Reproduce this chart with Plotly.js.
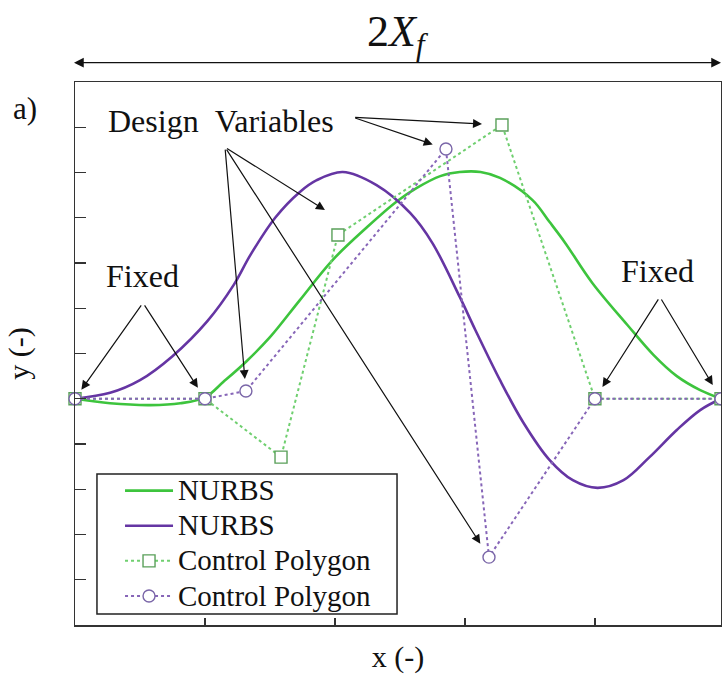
<!DOCTYPE html>
<html>
<head>
<meta charset="utf-8">
<script src="https://cdn.plot.ly/plotly-3.0.1.min.js"></script>
<style>html,body{margin:0;padding:0;background:#fff;}#chart{width:722px;height:677px;}</style>
</head>
<body>
<div id="chart"></div>
<script>
// Control polygons
const greenPolyX = [0, 1.0, 1.585, 2.023, 3.285, 4.0, 4.97];
const greenPolyY = [0, 0, -1.29, 3.62, 6.05, 0, 0];
const purplePolyX = [0, 1.0, 1.315, 2.854, 3.185, 4.0, 4.97];
const purplePolyY = [0, 0, 0.17, 5.52, -3.5, 0, 0];

// NURBS curves
const greenCurveX = [0, 0.27, 0.58, 0.81, 1.0, 1.14, 1.32, 1.50, 1.73, 1.98, 2.25, 2.48, 2.63, 2.81, 2.96, 3.12, 3.27, 3.52, 3.65, 3.77, 3.98, 4.25, 4.45, 4.63, 4.81, 4.97];
const greenCurveY = [0, -0.10, -0.14, -0.10, 0.03, 0.37, 0.83, 1.36, 2.18, 3.06, 3.80, 4.37, 4.66, 4.92, 5.01, 5.01, 4.88, 4.39, 3.91, 3.45, 2.56, 1.63, 0.97, 0.50, 0.19, 0];
const purpleCurveX = [0, 0.27, 0.5, 0.75, 1.02, 1.22, 1.35, 1.54, 1.73, 1.86, 2.06, 2.32, 2.58, 2.75, 2.96, 3.08, 3.27, 3.45, 3.65, 3.83, 4.02, 4.22, 4.42, 4.63, 4.81, 4.97];
const purpleCurveY = [0, 0.13, 0.41, 0.94, 1.72, 2.51, 3.18, 4.0, 4.57, 4.83, 5.01, 4.72, 4.10, 3.44, 2.25, 1.52, 0.41, -0.53, -1.35, -1.80, -1.97, -1.80, -1.29, -0.69, -0.25, 0];

const xTicks = [1, 2, 3, 4];
const yTicks = [-4, -3, -2, -1, 0, 1, 2, 3, 4, 5, 6];
const seriesNames = ['NURBS', 'NURBS', 'Control Polygon', 'Control Polygon'];

const GREEN = '#3dc43d', PURPLE = '#6535a3';
const GREEN_L = '#6fcf6f', PURPLE_L = '#8766b8';
const FONT = 'Liberation Serif, Times New Roman, serif';
const nm = s => '<span style="font-size:29px">' + s + '</span>';

const traces = [
  {x: greenCurveX, y: greenCurveY, name: nm(seriesNames[0]), mode: 'lines', line: {color: GREEN, width: 2.6, shape: 'spline'}},
  {x: purpleCurveX, y: purpleCurveY, name: nm(seriesNames[1]), mode: 'lines', line: {color: PURPLE, width: 2.6, shape: 'spline'}},
  {x: greenPolyX, y: greenPolyY, name: nm(seriesNames[2]), mode: 'lines+markers', cliponaxis: false,
   line: {color: GREEN_L, width: 2, dash: 'dot'},
   marker: {symbol: 'square', size: 12, color: '#fff', line: {color: '#5aa05a', width: 1.4}}},
  {x: purplePolyX, y: purplePolyY, name: nm(seriesNames[3]), mode: 'lines+markers', cliponaxis: false,
   line: {color: PURPLE_L, width: 2, dash: 'dot'},
   marker: {symbol: 'circle', size: 12, color: '#fff', line: {color: '#7a66a8', width: 1.4}}}
];

function arrow(tx, ty, hx, hy, standoff) {
  return {x: hx, y: hy, ax: tx, ay: ty, xref: 'x', yref: 'y', axref: 'x', ayref: 'y',
    text: ' ', showarrow: true, arrowhead: 2, arrowsize: 1.5, arrowwidth: 1.2, arrowcolor: '#111',
    standoff: standoff || 0, font: {size: 2}};
}
function label(txt, x, y, size) {
  return {x: x, y: y, xref: 'x', yref: 'y', text: txt, showarrow: false,
    font: {family: FONT, size: size || 32, color: '#111'}, xanchor: 'center', yanchor: 'middle'};
}

const dvRight = [2.14, 6.22], dvLow = [1.154, 5.56];
const fixL = [0.523, 2.12], fixR = [4.5, 2.25];

const annotations = [
  label('Design&nbsp;&nbsp;Variables', 1.127, 6.14, 32),
  label('Fixed', 0.523, 2.72, 32),
  label('Fixed', 4.48, 2.82, 32),
  arrow(dvRight[0], dvRight[1], greenPolyX[4], greenPolyY[4], 20),
  arrow(dvRight[0], dvRight[1], purplePolyX[3], purplePolyY[3], 14),
  arrow(dvLow[0], dvLow[1], 1.923, 4.17, 0),
  arrow(dvLow[0], dvLow[1], purplePolyX[2], purplePolyY[2], 12),
  arrow(dvLow[0], dvLow[1], purplePolyX[4], purplePolyY[4], 16),
  arrow(fixL[0], fixL[1], greenPolyX[0], greenPolyY[0], 11),
  arrow(fixL[0], fixL[1], greenPolyX[1], greenPolyY[1], 13),
  arrow(fixR[0], fixR[1], greenPolyX[5], greenPolyY[5], 14),
  arrow(fixR[0], fixR[1], greenPolyX[6], greenPolyY[6], 16),
  {x: 1.0015, y: 1.0355, xref: 'paper', yref: 'paper', ax: -650, ay: 0, text: ' ',
   showarrow: true, arrowside: 'end+start', arrowhead: 2, arrowsize: 1.5, arrowwidth: 1.3, arrowcolor: '#111', font: {size: 2}},
  {x: 0.5, y: 1.087, xref: 'paper', yref: 'paper', text: '2<i>X</i><sub><i>f</i></sub>', showarrow: false,
   font: {family: FONT, size: 44, color: '#111'}, xanchor: 'center', yanchor: 'middle'},
  {x: -0.077, y: 0.952, xref: 'paper', yref: 'paper', text: 'a)', showarrow: false,
   font: {family: FONT, size: 31, color: '#111'}, xanchor: 'center', yanchor: 'middle'}
];

// legend frame (white box behind the legend entries)
const shapes = [
  {type: 'rect', xref: 'paper', yref: 'paper', x0: 0.034, x1: 0.4985, y0: 0.0203, y1: 0.2781,
   fillcolor: '#fff', line: {color: '#222', width: 1.5}, layer: 'above'}
];

const layout = {
  width: 722, height: 677,
  margin: {l: 75, r: 1, t: 82, b: 52},
  paper_bgcolor: '#fff', plot_bgcolor: '#fff',
  font: {family: FONT, color: '#111'},
  showlegend: true,
  legend: {x: 0.0697, y: 0.289, xanchor: 'left', yanchor: 'top', bgcolor: 'rgba(0,0,0,0)',
    borderwidth: 0, itemwidth: 48,
    font: {family: FONT, size: 24.7, color: '#111'}},
  xaxis: {range: [0, 4.97], showgrid: false, zeroline: false, showline: true, mirror: true,
    linecolor: '#333', linewidth: 1.5, ticks: 'inside', tickvals: xTicks, ticklen: 7, tickwidth: 1.3,
    tickcolor: '#333', showticklabels: false,
    title: {text: 'x (-)', font: {family: FONT, size: 30, color: '#111'}, standoff: 20}},
  yaxis: {range: [-5, 7], showgrid: false, zeroline: false, showline: true, mirror: true,
    linecolor: '#333', linewidth: 1.5, ticks: 'inside', tickvals: yTicks, ticklen: 11, tickwidth: 1.3,
    tickcolor: '#333', showticklabels: false,
    title: {text: 'y (-)', font: {family: FONT, size: 30, color: '#111'}, standoff: 35}},
  shapes: shapes,
  annotations: annotations
};

Plotly.newPlot('chart', traces, layout, {displayModeBar: false, staticPlot: true});
</script>
</body>
</html>
